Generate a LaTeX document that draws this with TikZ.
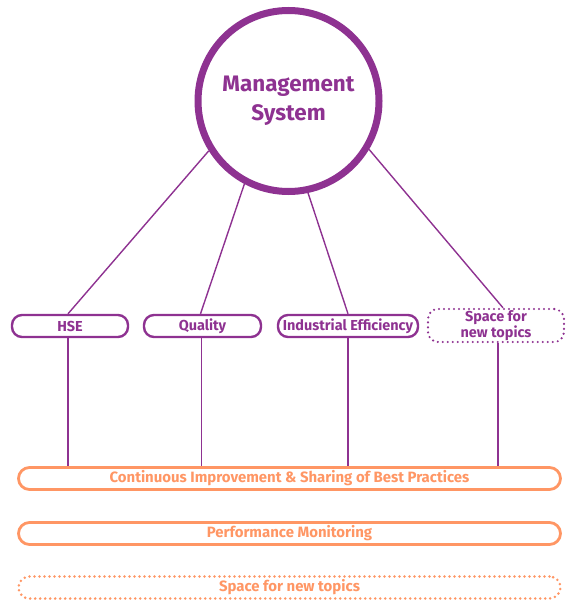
\documentclass[tikz,border=0pt]{standalone}
\usepackage{fontspec}
\setmainfont{Fira Sans}
\usepackage{tikz}
\usetikzlibrary{arrows.meta}
\definecolor{mspurple}{RGB}{142,50,145}
\definecolor{msorange}{RGB}{255,150,100}
\tikzset{
	topicbox/.style={draw=mspurple, line width=2.4bp, rounded corners=10bp, text=mspurple,
		minimum width=116bp, minimum height=22bp, inner sep=0pt, font=\bfseries\fontsize{14.5}{16}\selectfont, align=center},
	pillarbox/.style={draw=msorange, line width=2.8bp, rounded corners=11bp, text=msorange,
		minimum width=542bp, minimum height=22bp, inner sep=0pt, font=\bfseries\fontsize{15}{17}\selectfont},
	spacedots/.style={dash pattern=on 0pt off 5bp, line cap=round},
	link/.style={draw=mspurple, line width=1.4bp}
}
\begin{document}
\begin{tikzpicture}[x=1bp, y=-1bp]
	\useasboundingbox (0,0) rectangle (566,600);
	%
	\node[circle, draw=mspurple, line width=7bp, minimum size=181bp, text=mspurple, align=center,
		font=\bfseries\fontsize{22.5}{29}\selectfont] (ms) at (288.5,101) {Management\\System};
	%
	\node[topicbox] (hse) at (70,326) {HSE};
	\node[topicbox, minimum width=117bp] (quality) at (202.5,326) {Quality};
	\node[topicbox, minimum width=140bp] (indeff) at (348,326) {Industrial Efficiency};
	\node[topicbox, spacedots, minimum width=136bp, minimum height=33bp] (newtop) at (496,325.5) {Space for\\new topics};
	%
	\node[pillarbox] (improve) at (289.5,478.5) {Continuous Improvement \& Sharing of Best Practices};
	\node[pillarbox] (perform) at (289.5,533.5) {Performance Monitoring};
	\node[pillarbox, spacedots] (newpil) at (289.5,587.5) {Space for new topics};
	%
	\draw[link] (ms.212) -- ([xshift=-2bp]hse.north);
	\draw[link] (ms.242) -- ([xshift=-2bp]quality.north);
	\draw[link] (ms.282) -- (indeff.north);
	\draw[link] (ms.329) -- ([xshift=7bp]newtop.north);
	%
	\draw[link] ([xshift=-2bp]hse.south) -- ([xshift=-2bp]hse.south |- improve.north);
	\draw[link] ([xshift=-1bp]quality.south) -- ([xshift=-1bp]quality.south |- improve.north);
	\draw[link] (indeff.south) -- (indeff.south |- improve.north);
	\draw[link] ([xshift=2bp]newtop.south) -- ([xshift=2bp]newtop.south |- improve.north);
\end{tikzpicture}
\end{document}
